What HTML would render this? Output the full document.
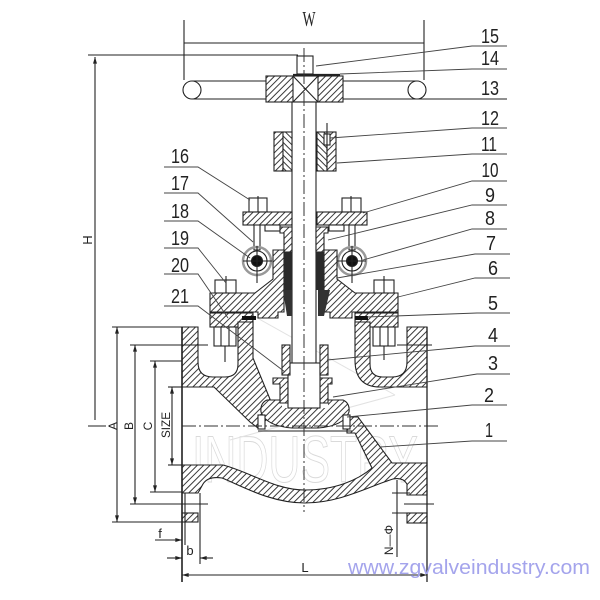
<!DOCTYPE html>
<html><head><meta charset="utf-8"><style>html,body{margin:0;padding:0;background:#fff}svg{display:block}</style></head>
<body>
<svg width="600" height="600" viewBox="0 0 600 600" xmlns="http://www.w3.org/2000/svg">
<defs>
<pattern id="h" width="4.5" height="4.5" patternUnits="userSpaceOnUse" patternTransform="rotate(45)"><rect width="4.5" height="4.5" fill="#fff"/><line x1="0.5" y1="0" x2="0.5" y2="4.5" stroke="#3a3a3a" stroke-width="1"/></pattern>
<pattern id="h2" width="4.5" height="4.5" patternUnits="userSpaceOnUse" patternTransform="rotate(-45)"><rect width="4.5" height="4.5" fill="#fff"/><line x1="0.5" y1="0" x2="0.5" y2="4.5" stroke="#3a3a3a" stroke-width="1"/></pattern>
<marker id="ar" viewBox="0 0 10 6" refX="10" refY="3" markerWidth="7" markerHeight="4" orient="auto-start-reverse" markerUnits="userSpaceOnUse"><path d="M0,0 L10,3 L0,6 Z" fill="#222"/></marker>
</defs>

<!-- faint watermark -->
<text x="192" y="482" font-family="Liberation Sans, sans-serif" font-size="66" textLength="226" lengthAdjust="spacingAndGlyphs" fill="none" stroke="#dadada" stroke-width="1">INDUSTRY</text>
<g stroke="#e2e2e2" stroke-width="1" fill="none">
<line x1="225" y1="300" x2="395" y2="395"/><line x1="395" y1="395" x2="230" y2="440"/>
</g>

<g fill="none" stroke="#222" stroke-width="1.1">
<!-- W dimension -->
<line x1="184" y1="20" x2="184" y2="80"/><line x1="424" y1="20" x2="424" y2="80"/>
<line x1="184" y1="43" x2="424" y2="43"/>
<!-- H top line -->
<line x1="88" y1="55" x2="298" y2="55"/>
<line x1="95" y1="57" x2="95" y2="420" marker-start="url(#ar)"/>

<!-- handwheel -->
<circle cx="192" cy="90" r="9" fill="#fff"/><circle cx="417" cy="90" r="9" fill="#fff"/>
<line x1="192" y1="81" x2="266" y2="81"/><line x1="192" y1="99" x2="266" y2="99"/>
<line x1="343" y1="81" x2="417" y2="81"/><line x1="343" y1="99" x2="507" y2="99" stroke-width="1"/>
<rect x="266" y="76" width="77" height="26" fill="url(#h)"/>
<rect x="293" y="76" width="25" height="26" fill="#fff"/>
<line x1="293" y1="76" x2="318" y2="102"/><line x1="318" y1="76" x2="293" y2="102"/>
<line x1="293" y1="75" x2="340" y2="75" stroke-width="2.2"/>
<rect x="297" y="56" width="16" height="18" fill="#fff"/>

<!-- stem -->
<rect x="292" y="102" width="24" height="262" fill="#fff"/>

<!-- sleeve 11 -->
<rect x="274" y="132" width="9" height="39" fill="url(#h)"/><rect x="283" y="132" width="9" height="39" fill="url(#h2)"/>
<rect x="317" y="132" width="10" height="39" fill="url(#h2)"/><rect x="327" y="132" width="9" height="39" fill="url(#h)"/>
<rect x="324" y="134" width="6" height="11" fill="#fff"/><line x1="327" y1="123" x2="327" y2="150"/>

<!-- nuts 16 and eye bolts -->
<rect x="254" y="212" width="6" height="38" fill="#fff"/>
<rect x="349" y="212" width="6" height="38" fill="#fff"/>
<rect x="249" y="198" width="18" height="14" fill="#fff"/><line x1="258" y1="196" x2="258" y2="212"/>
<rect x="342" y="198" width="19" height="14" fill="#fff"/><line x1="351" y1="196" x2="351" y2="212"/>
<circle cx="257" cy="261" r="14" stroke="#999" stroke-width="2.5"/>
<circle cx="257" cy="261" r="10"/>
<circle cx="257" cy="261" r="5.5" fill="#111"/>
<line x1="257" y1="246" x2="257" y2="283"/><line x1="243" y1="261" x2="272" y2="261"/>
<circle cx="352" cy="261" r="14" stroke="#999" stroke-width="2.5"/>
<circle cx="352" cy="261" r="10"/>
<circle cx="352" cy="261" r="5.5" fill="#111"/>
<line x1="352" y1="246" x2="352" y2="283"/><line x1="337" y1="261" x2="366" y2="261"/>

<!-- gland flange 10 -->
<rect x="243" y="212" width="49" height="13" fill="url(#h)"/>
<rect x="317" y="212" width="50" height="13" fill="url(#h)"/>
<rect x="265" y="225" width="15" height="6" fill="#fff"/>
<rect x="329" y="225" width="15" height="6" fill="#fff"/>
<!-- gland 9 -->
<path d="M280,227 H292 V252 H284 V233 H280 Z" fill="url(#h)"/>
<path d="M328,227 H316 V252 H324 V233 H328 Z" fill="url(#h)"/>

<!-- bonnet -->
<path d="M210,293 H255 L273,279 V250 H284 V312 H278 V318 H258 V312 H210 Z" fill="url(#h)"/>
<path d="M398,293 H355 L337,279 V250 H324 V312 H330 V318 H352 V312 H398 Z" fill="url(#h)"/>
<rect x="284" y="252" width="8" height="38" fill="#2a2a2a" stroke="none"/>
<rect x="316" y="252" width="8" height="38" fill="#2a2a2a" stroke="none"/>
<path d="M283,290 H292 V316 H287 Z" fill="#333" stroke="none"/>
<path d="M318,290 H330 L324,316 H318 Z" fill="#333" stroke="none"/>

<!-- bonnet bolts 20 -->
<rect x="215" y="280" width="21" height="13" fill="#fff"/><line x1="226" y1="276" x2="226" y2="293"/>
<rect x="374" y="280" width="20" height="13" fill="#fff"/><line x1="384" y1="276" x2="384" y2="293"/>

<!-- body neck flanges -->
<rect x="210" y="313" width="43" height="14" fill="url(#h)"/>
<rect x="355" y="313" width="43" height="14" fill="url(#h)"/>
<rect x="242" y="316" width="14" height="4" fill="#111" stroke="none"/>
<rect x="355" y="316" width="13" height="4" fill="#111" stroke="none"/>

<!-- body upper left -->
<path d="M182,327 H198 V362 Q198,377 213,377 H225 Q238,377 238,364 V322 H253 V358 L272,404 L268,418 L258,428 L250,422 L214,387 H182 Z" fill="url(#h)"/>
<!-- body upper right -->
<path d="M427,327 H407 V362 Q407,377 392,377 H383 Q370,377 370,364 V322 H355 V360 Q355,387 380,387 H427 Z" fill="url(#h)"/>
<!-- nuts below flange -->
<rect x="214" y="327" width="22" height="19" fill="#fff"/><line x1="221" y1="327" x2="221" y2="346"/><line x1="229" y1="327" x2="229" y2="346"/><line x1="225" y1="346" x2="225" y2="362"/>
<rect x="373" y="327" width="22" height="19" fill="#fff"/><line x1="380" y1="327" x2="380" y2="346"/><line x1="388" y1="327" x2="388" y2="346"/><line x1="384" y1="346" x2="384" y2="360"/>

<!-- body lower -->
<path d="M182,465 H223 C250,472 275,490 305,490 C335,490 358,480 372,468 L355,433 H347 V417 H358 L392,463 H427 V495 H407 V484 Q403,477 393,479 C370,486 340,503 305,503 C270,503 240,485 222,478 Q208,476 203,484 L198,493 H182 Z" fill="url(#h)"/>
<rect x="182" y="513" width="16" height="9" fill="url(#h)"/>
<rect x="407" y="513" width="20" height="10" fill="url(#h)"/>

<!-- disc 3 -->
<path d="M267,400 H343 Q350,403 349,412 Q344,426 318,428 H292 Q266,426 261,412 Q260,403 267,400 Z" fill="url(#h)"/>
<rect x="282" y="397" width="46" height="11" fill="#fff" stroke="none"/>
<path d="M273,378 H288 V403 H280 V384 H273 Z" fill="url(#h)"/>
<path d="M332,378 H320 V403 H328 V384 H332 Z" fill="url(#h)"/>
<rect x="288" y="363" width="32" height="45" fill="#fff"/>
<rect x="282" y="345" width="8" height="30" fill="url(#h)"/>
<rect x="320" y="345" width="8" height="30" fill="url(#h)"/>
<line x1="258" y1="431" x2="352" y2="431"/>
<rect x="258" y="415" width="7" height="14" fill="#fff"/>
<rect x="343" y="415" width="7" height="14" fill="#fff"/>

<!-- centerlines -->
<line x1="304" y1="48" x2="304" y2="512" stroke="#333" stroke-width="1" stroke-dasharray="14 3 2 3"/>
<line x1="182" y1="426" x2="440" y2="426" stroke="#333" stroke-width="1" stroke-dasharray="14 3 2 3"/>
<line x1="88" y1="426" x2="106" y2="426"/>

<!-- left dimensions -->
<line x1="117" y1="327" x2="117" y2="522" marker-start="url(#ar)" marker-end="url(#ar)"/>
<line x1="112" y1="327" x2="182" y2="327"/><line x1="112" y1="522" x2="182" y2="522"/>
<line x1="135" y1="345" x2="135" y2="504" marker-start="url(#ar)" marker-end="url(#ar)"/>
<line x1="130" y1="345" x2="208" y2="345"/><line x1="130" y1="504" x2="208" y2="504"/>
<line x1="155" y1="361" x2="155" y2="492" marker-start="url(#ar)" marker-end="url(#ar)"/>
<line x1="150" y1="361" x2="182" y2="361"/><line x1="150" y1="492" x2="182" y2="492"/>
<line x1="172" y1="387" x2="172" y2="465" marker-start="url(#ar)" marker-end="url(#ar)"/>
<line x1="168" y1="387" x2="182" y2="387"/><line x1="168" y1="465" x2="182" y2="465"/>

<!-- flange faces, L, f, b -->
<line x1="182" y1="327" x2="182" y2="582" stroke-width="1.6"/>
<line x1="185" y1="493" x2="185" y2="545"/>
<line x1="427" y1="327" x2="427" y2="582" stroke-width="1.3"/>
<line x1="200" y1="493" x2="200" y2="564"/>
<line x1="182" y1="575" x2="427" y2="575" marker-start="url(#ar)" marker-end="url(#ar)"/>
<line x1="155" y1="540" x2="182" y2="540" marker-end="url(#ar)"/>
<line x1="167" y1="558" x2="182" y2="558" marker-end="url(#ar)"/>
<line x1="213" y1="558" x2="200" y2="558" marker-end="url(#ar)"/>

<!-- right small dims -->
<line x1="397" y1="480" x2="397" y2="557"/>
<line x1="392" y1="493" x2="410" y2="493"/><line x1="392" y1="513" x2="410" y2="513"/>
<line x1="404" y1="504" x2="434" y2="504"/>
<line x1="397" y1="345" x2="432" y2="345"/>
</g>

<!-- leaders -->
<g stroke="#444" stroke-width="0.9" fill="none">
<polyline points="316,66 472,46 507,46"/>
<polyline points="340,74 472,69 507,69"/>
<polyline points="330,138 472,128 507,128"/>
<polyline points="337,163 472,154 507,154"/>
<polyline points="363,213 472,181 507,181"/>
<polyline points="328,240 472,205 507,205"/>
<polyline points="363,260 472,229 507,229"/>
<polyline points="337,278 475,254 510,254"/>
<polyline points="398,297 475,278 510,278"/>
<polyline points="367,317 477,313 510,313"/>
<polyline points="327,360 475,346 510,346"/>
<polyline points="333,397 477,374 510,374"/>
<polyline points="347,417 472,405 507,405"/>
<polyline points="380,447 472,441 507,441"/>
<polyline points="250,200 198,167 164,167"/>
<polyline points="253,242 198,193 164,193"/>
<polyline points="250,258 198,221 164,221"/>
<polyline points="226,283 198,248 164,248"/>
<polyline points="228,318 198,274 164,274"/>
<polyline points="285,372 198,306 164,306"/>
</g>

<!-- numbers -->
<g font-family="Liberation Sans, sans-serif" font-size="20" fill="#222" text-anchor="middle">
<text x="490" y="43" textLength="18" lengthAdjust="spacingAndGlyphs">15</text>
<text x="490" y="65" textLength="18" lengthAdjust="spacingAndGlyphs">14</text>
<text x="490" y="95" textLength="18" lengthAdjust="spacingAndGlyphs">13</text>
<text x="490" y="125" textLength="18" lengthAdjust="spacingAndGlyphs">12</text>
<text x="489" y="151" textLength="16" lengthAdjust="spacingAndGlyphs">11</text>
<text x="490" y="177" textLength="17" lengthAdjust="spacingAndGlyphs">10</text>
<text x="490" y="202" textLength="10" lengthAdjust="spacingAndGlyphs">9</text>
<text x="490" y="225" textLength="10" lengthAdjust="spacingAndGlyphs">8</text>
<text x="491" y="250" textLength="10" lengthAdjust="spacingAndGlyphs">7</text>
<text x="493" y="275" textLength="10" lengthAdjust="spacingAndGlyphs">6</text>
<text x="493" y="310" textLength="10" lengthAdjust="spacingAndGlyphs">5</text>
<text x="493" y="342" textLength="10" lengthAdjust="spacingAndGlyphs">4</text>
<text x="493" y="370" textLength="10" lengthAdjust="spacingAndGlyphs">3</text>
<text x="489" y="402" textLength="10" lengthAdjust="spacingAndGlyphs">2</text>
<text x="489" y="437" textLength="8" lengthAdjust="spacingAndGlyphs">1</text>
<text x="180" y="163" textLength="18" lengthAdjust="spacingAndGlyphs">16</text>
<text x="180" y="190" textLength="18" lengthAdjust="spacingAndGlyphs">17</text>
<text x="180" y="218" textLength="18" lengthAdjust="spacingAndGlyphs">18</text>
<text x="180" y="245" textLength="18" lengthAdjust="spacingAndGlyphs">19</text>
<text x="180" y="272" textLength="18" lengthAdjust="spacingAndGlyphs">20</text>
<text x="180" y="303" textLength="18" lengthAdjust="spacingAndGlyphs">21</text>
</g>

<!-- dimension labels -->
<g font-family="Liberation Sans, sans-serif" fill="#222" text-anchor="middle">
<text x="309" y="26" font-family="Liberation Serif, serif" font-size="21" textLength="13" lengthAdjust="spacingAndGlyphs">W</text>
<text transform="translate(92,240) rotate(-90)" font-size="13">H</text>
<text transform="translate(117,426) rotate(-90)" font-size="12">A</text>
<text transform="translate(133,426) rotate(-90)" font-size="12">B</text>
<text transform="translate(152,426) rotate(-90)" font-size="12">C</text>
<text transform="translate(170,425) rotate(-90)" font-size="12" textLength="26" lengthAdjust="spacingAndGlyphs">SIZE</text>
<text x="305" y="572" font-size="13">L</text>
<text x="160" y="538" font-size="13">f</text>
<text x="190" y="555" font-size="13">b</text>
<text transform="translate(393,540) rotate(-90)" font-size="12">N—Φ</text>
</g>

<text x="348" y="574" font-family="Liberation Sans, sans-serif" font-size="20" fill="#a4a4ec" textLength="242" lengthAdjust="spacingAndGlyphs">www.zgvalveindustry.com</text>
</svg>
</body></html>
